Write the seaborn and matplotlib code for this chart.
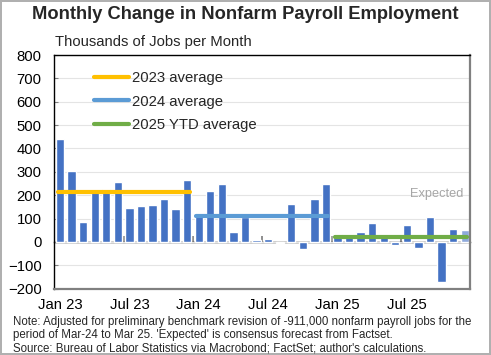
import matplotlib.pyplot as plt
import numpy as np
import pandas as pd
import seaborn as sns

# Monthly change in nonfarm payrolls, thousands of jobs (Jan 23 - Dec 25)
payroll_2023 = [442, 303, 84, 212, 225, 256, 147, 155, 158, 183, 141, 267]
payroll_2024 = [117, 220, 246, 41, 108, 10, 13, -3, 162, -31, 183, 246]
payroll_2025 = [34, 23, 43, 81, 20, -13, 71, -26, 107, -172, 55, 50]
years = ['2023', '2024', '2025']
avg_labels = ['2023 average', '2024 average', '2025 YTD average']
avg_colors = ['#FFC000', '#5B9BD5', '#70AD47']
expected_month = 'Dec 25'
tick_labels = ['Jan 23', 'Jul 23', 'Jan 24', 'Jul 24', 'Jan 25', 'Jul 25']

# Build the monthly table
months = pd.date_range('2023-01-01', periods=36, freq='MS').strftime('%b %y')
values = payroll_2023 + payroll_2024 + payroll_2025
payroll_df = pd.DataFrame({'month': months, 'value': values})
payroll_df['kind'] = np.where(payroll_df['month'] == expected_month, 'Expected', 'Actual')
payroll_df['year'] = ['20' + m[-2:] for m in payroll_df['month']]
payroll_df['pos'] = np.arange(len(payroll_df))

# Yearly averages drawn as segments across each year's bars
avg_rows = []
for year, label in zip(years, avg_labels):
    sub = payroll_df[payroll_df['year'] == year]
    mean = sub['value'].mean()
    avg_rows.append({'label': label, 'x': sub['pos'].min() - 0.2, 'y': mean})
    avg_rows.append({'label': label, 'x': sub['pos'].max() + 0.2, 'y': mean})
avg_df = pd.DataFrame(avg_rows)

sns.set_theme(style='white')
plt.rcParams['font.family'] = ['Liberation Sans', 'DejaVu Sans']

fig = plt.figure(figsize=(4.91, 3.55), dpi=100)
fig.patch.set_edgecolor('#B0B0B0')
fig.patch.set_linewidth(1.5)
ax = fig.add_axes([0.110, 0.187, 0.847, 0.658])

sns.barplot(data=payroll_df, x='month', y='value', hue='kind', order=list(months),
            palette={'Actual': '#4472C4', 'Expected': '#8EA9DB'},
            dodge=False, width=0.72, legend=False, saturation=1, ax=ax)
sns.lineplot(data=avg_df, x='x', y='y', hue='label', hue_order=avg_labels,
             palette=avg_colors, linewidth=3, ax=ax)

ax.set_ylim(-200, 800)
ax.set_xlim(-0.52, len(months) - 0.55)
ax.set_yticks(range(-200, 801, 100))
ax.yaxis.grid(True, color='#E4E4E4', linewidth=0.8)
ax.set_axisbelow(True)
tick_pos = [list(months).index(t) for t in tick_labels]
ax.set_xticks(tick_pos, tick_labels)
ax.tick_params(axis='x', length=0, pad=7, labelsize=10.7, labelcolor='black')
ax.tick_params(axis='y', direction='in', length=3, width=0.8, color='#808080',
               pad=9, labelsize=10.7, labelcolor='black', left=True)
ax.set_xlabel('')
ax.set_ylabel('')
for side in ['top', 'left']:
    ax.spines[side].set_color('black')
    ax.spines[side].set_linewidth(1)
for side in ['right', 'bottom']:
    ax.spines[side].set_color('#808080')
    ax.spines[side].set_linewidth(1.6)

# Zero line with category-boundary ticks
zero_frac = (0 - (-200)) / 1000
zero_axis = ax.secondary_xaxis(zero_frac)
zero_axis.set_xticks([p - 0.5 for p in tick_pos[1:]] + [len(months) - 0.5])
zero_axis.tick_params(direction='in', length=4, color='#808080', labelbottom=False)
zero_axis.spines['bottom'].set_color('black')
zero_axis.spines['bottom'].set_linewidth(1)

# Legend
handles, labels = ax.get_legend_handles_labels()
keep = [(h, l) for h, l in zip(handles, labels) if l in avg_labels]
ax.legend([h for h, _ in keep], [l for _, l in keep], loc='upper left',
          bbox_to_anchor=(0.097, 0.93), frameon=False, fontsize=10.7,
          handlelength=2.3, handletextpad=0.2, labelspacing=0.62,
          borderpad=0, borderaxespad=0)

# Expected label
exp_pos = payroll_df.loc[payroll_df['kind'] == 'Expected', 'pos'].iloc[0]
ax.text(exp_pos - 0.1, 206, 'Expected', ha='right', va='center',
        fontsize=9.2, color='#A6A6A6')

# Titles and notes
fig.text(0.5, 0.958, 'Monthly Change in Nonfarm Payroll Employment',
         ha='center', va='center', fontsize=13.2, fontweight='bold')
fig.text(0.112, 0.882, 'Thousands of Jobs per Month', ha='left', va='center', fontsize=10.7)
fig.text(0.026, 0.109,
         "Note: Adjusted for preliminary benchmark revision of -911,000 nonfarm payroll jobs for the\n"
         "period of Mar-24 to Mar 25. 'Expected' is consensus forecast from Factset.\n"
         "Source: Bureau of Labor Statistics via Macrobond; FactSet; author's calculations.",
         ha='left', va='top', fontsize=8.3, linespacing=1.12)

plt.savefig('out.png', dpi=100)
plt.close(fig)
